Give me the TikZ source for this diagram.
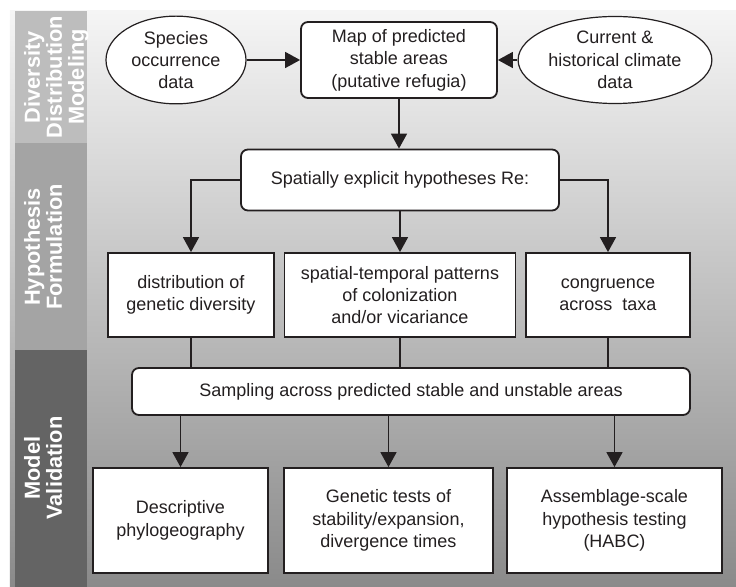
\documentclass[tikz,border=0pt]{standalone}
\usepackage{fontspec}
\setmainfont{Liberation Sans}
\usepackage{xcolor}
\usepackage{tikz}
\usetikzlibrary{positioning,arrows.meta,shapes.geometric,calc}
\definecolor{ink}{HTML}{231F20}
\definecolor{bgtop}{HTML}{F5F5F5}
\definecolor{bgbot}{HTML}{8A8A8A}
\definecolor{bandone}{HTML}{BDBDBD}
\definecolor{bandtwo}{HTML}{A4A4A4}
\definecolor{bandthree}{HTML}{646464}

\begin{document}
\begin{tikzpicture}[
  x=0.5pt, y=-0.5pt,
  every node/.style={align=center, font=\fontsize{9}{11.2}\selectfont, text=ink},
  source/.style={
    ellipse, draw=ink, line width=0.6pt, fill=white,
    minimum width=70pt, minimum height=38pt, inner sep=1pt
  },
  roundbox/.style={
    rectangle, rounded corners=3.5pt, draw=ink, line width=0.9pt,
    fill=white, inner sep=2pt
  },
  sharpbox/.style={
    rectangle, draw=ink, line width=0.9pt, fill=white, inner sep=2pt
  },
  flow/.style={-{Triangle[length=7.5pt,width=8pt]}, line width=0.8pt, draw=ink},
  link/.style={line width=0.8pt, draw=ink},
  bandlbl/.style={rotate=90, anchor=north, text=white,
    font=\fontsize{10.9}{11}\selectfont\bfseries},
]
\useasboundingbox (0,0) rectangle (736,587);

% Background and stage bands
\fill[top color=bgtop, bottom color=bgbot] (10,11) rectangle (736,587);
\fill[bandone]   (15,11)  rectangle (87,143);
\fill[bandtwo]   (15,143) rectangle (87,350);
\fill[bandthree] (15,350) rectangle (87,587);
\node[bandlbl] (lblmod) at (17,77)  {Diversity\\Distribution\\Modeling};
\node[bandlbl] (lblhyp) at (17,247) {Hypothesis\\Formulation};
\node[bandlbl] (lblval) at (17,468) {Model\\Validation};

% Top row: occurrence ──► map ◄── climate
\node[source]  (occur) at (176,60) {Species\\occurrence\\data};
\node[roundbox, minimum width=98pt, minimum height=38pt] (map) at (399,60)
  {Map of predicted\\stable areas\\(putative refugia)};
\node[source, minimum width=75pt] (climate) at (615,60)
  {Current \&\\historical climate\\data};
\draw[flow] (occur.east)   -- (map.west);
\draw[flow] (climate.west) -- (map.east);

% Hypotheses
\node[roundbox, minimum width=159pt, minimum height=30.5pt] (hyp) at (400,180)
  {Spatially explicit hypotheses Re:};
\draw[flow] (map.south) -- (map.south |- hyp.north);

\node[sharpbox, minimum width=83pt, minimum height=42pt] (gendiv) at (191,295)
  {distribution of\\genetic diversity};
\node[sharpbox, minimum width=115.5pt, minimum height=42pt] (colon) at (400,295)
  {spatial-temporal patterns\\of colonization\\and/or vicariance};
\node[sharpbox, minimum width=82pt, minimum height=42pt] (congr) at (608,295)
  {congruence\\across\ \ taxa};
\draw[flow] (hyp.west)  -| (gendiv.north);
\draw[flow] (hyp.south) -- (colon.north);
\draw[flow] (hyp.east)  -| (congr.north);

% Sampling
\node[roundbox, minimum width=279pt, minimum height=23.5pt] (samp) at (411,391.5)
  {Sampling across predicted stable and unstable areas};
\draw[link] (gendiv.south) -- (gendiv.south |- samp.north);
\draw[link] (colon.south)  -- (colon.south |- samp.north);
\draw[link] (congr.south)  -- (congr.south |- samp.north);

% Bottom row: tests
\node[sharpbox, minimum width=87.5pt, minimum height=52.5pt] (desc) at (180.5,520.5)
  {Descriptive\\phylogeography};
\node[sharpbox, minimum width=104.5pt, minimum height=52.5pt] (gentest) at (388.5,520.5)
  {Genetic tests of\\stability/expansion,\\divergence times};
\node[sharpbox, minimum width=107.5pt, minimum height=52.5pt] (habc) at (614.5,520.5)
  {Assemblage-scale\\hypothesis testing\\(HABC)};
\draw[flow] (samp.south -| desc.north)    -- (desc.north);
\draw[flow] (samp.south -| gentest.north) -- (gentest.north);
\draw[flow] (samp.south -| habc.north)    -- (habc.north);
\end{tikzpicture}
\end{document}
